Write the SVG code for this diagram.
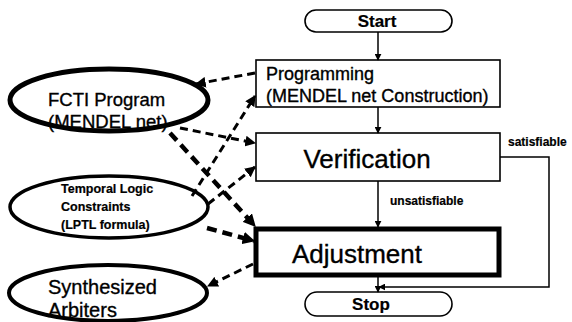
<svg xmlns="http://www.w3.org/2000/svg" width="572" height="322" viewBox="0 0 572 322">
  <style>
    .box { fill: #fff; stroke: #000; stroke-width: 1.6; }
    .thick { fill: #fff; stroke: #000; stroke-width: 5; }
    .pill { fill: #fff; stroke: #000; stroke-width: 1.6; }
    .ell { fill: #fff; stroke: #000; }
    .t { font-family: "Liberation Sans", Arial, sans-serif; fill: #000; stroke: #000; stroke-width: 0.35; }
    .b { font-weight: bold; stroke-width: 0.2; }
    .solid { fill: none; stroke: #000; stroke-width: 1.5; }
    .dash { fill: none; stroke: #000; stroke-width: 3; stroke-dasharray: 8 5; }
    .dash2 { fill: none; stroke: #000; stroke-width: 4.5; stroke-dasharray: 10 6; }
  </style>
  <defs>
    <marker id="ah" viewBox="0 0 10 10" refX="9" refY="5" markerWidth="7" markerHeight="7" markerUnits="userSpaceOnUse" orient="auto">
      <path d="M0,0 L10,5 L0,10 z" fill="#000"/>
    </marker>
    <marker id="ahd" viewBox="0 0 10 10" refX="9" refY="5" markerWidth="3.6" markerHeight="3.6" orient="auto">
      <path d="M0,0 L10,5 L0,10 z" fill="#000"/>
    </marker>
    <marker id="ahd2" viewBox="0 0 10 10" refX="9" refY="5" markerWidth="2.8" markerHeight="2.8" orient="auto">
      <path d="M0,0 L10,5 L0,10 z" fill="#000"/>
    </marker>
  </defs>

  <!-- flow nodes -->
  <g id="start">
    <rect class="pill" x="305" y="10" width="147" height="22" rx="11"/>
    <text class="t b" x="377" y="27" font-size="17" text-anchor="middle">Start</text>
  </g>
  <g id="programming">
    <rect class="box" x="256" y="60" width="244" height="47"/>
    <text class="t" x="266" y="80" font-size="18">Programming</text>
    <text class="t" x="266" y="102" font-size="18">(MENDEL net Construction)</text>
  </g>
  <g id="verification">
    <rect class="box" x="256" y="133" width="244" height="48"/>
    <text class="t" x="367" y="168" font-size="26" text-anchor="middle">Verification</text>
  </g>
  <g id="adjustment">
    <rect class="thick" x="256" y="229" width="243" height="46"/>
    <text class="t" x="357" y="263" font-size="26" text-anchor="middle">Adjustment</text>
  </g>
  <g id="stop">
    <rect class="pill" x="305" y="292" width="147" height="24" rx="12"/>
    <text class="t b" x="371" y="310" font-size="17" text-anchor="middle">Stop</text>
  </g>

  <!-- data nodes -->
  <g id="fcti">
    <ellipse class="ell" cx="109" cy="100" rx="99" ry="31" stroke-width="5"/>
    <text class="t" x="48" y="106" font-size="18.5">FCTI Program</text>
    <text class="t" x="48" y="128" font-size="18.5">(MENDEL net)</text>
  </g>
  <g id="temporal">
    <ellipse class="ell" cx="109" cy="207" rx="99" ry="31" stroke-width="3.5"/>
    <text class="t b" x="61" y="193" font-size="12.5">Temporal Logic</text>
    <text class="t b" x="61" y="211" font-size="12.5">Constraints</text>
    <text class="t b" x="61" y="229" font-size="12.5">(LPTL formula)</text>
  </g>
  <g id="arbiters">
    <ellipse class="ell" cx="108" cy="293" rx="99" ry="28" stroke-width="4"/>
    <text class="t" x="48" y="294" font-size="20">Synthesized</text>
    <text class="t" x="48" y="317" font-size="20">Arbiters</text>
  </g>

  <!-- connectors -->
  <g id="connectors">
    <line class="solid" x1="378" y1="32" x2="378" y2="60" marker-end="url(#ah)"/>
    <line class="solid" x1="378" y1="107" x2="378" y2="133" marker-end="url(#ah)"/>
    <line class="solid" x1="378" y1="181" x2="378" y2="227" marker-end="url(#ah)"/>
    <line class="solid" x1="378" y1="277" x2="378" y2="292" marker-end="url(#ah)"/>
    <polyline class="solid" points="500,157 549,157 549,287 379,287" marker-end="url(#ah)"/>
    <text class="t b" x="508" y="146" font-size="12">satisfiable</text>
    <text class="t b" x="390" y="205" font-size="12">unsatisfiable</text>

    <line class="dash" x1="255" y1="73" x2="196" y2="84" marker-end="url(#ahd)"/>
    <line class="dash" x1="180" y1="128" x2="255" y2="143" marker-end="url(#ahd)"/>
    <line class="dash2" x1="170" y1="133" x2="255" y2="226" marker-end="url(#ahd2)"/>
    <line class="dash" x1="192" y1="196" x2="255" y2="96" marker-end="url(#ahd)"/>
    <line class="dash" x1="208" y1="204" x2="255" y2="167" marker-end="url(#ahd)"/>
    <line class="dash2" x1="207" y1="228" x2="254" y2="241" marker-end="url(#ahd2)"/>
    <line class="dash" x1="253" y1="264" x2="208" y2="286" marker-end="url(#ahd)"/>
  </g>
</svg>
